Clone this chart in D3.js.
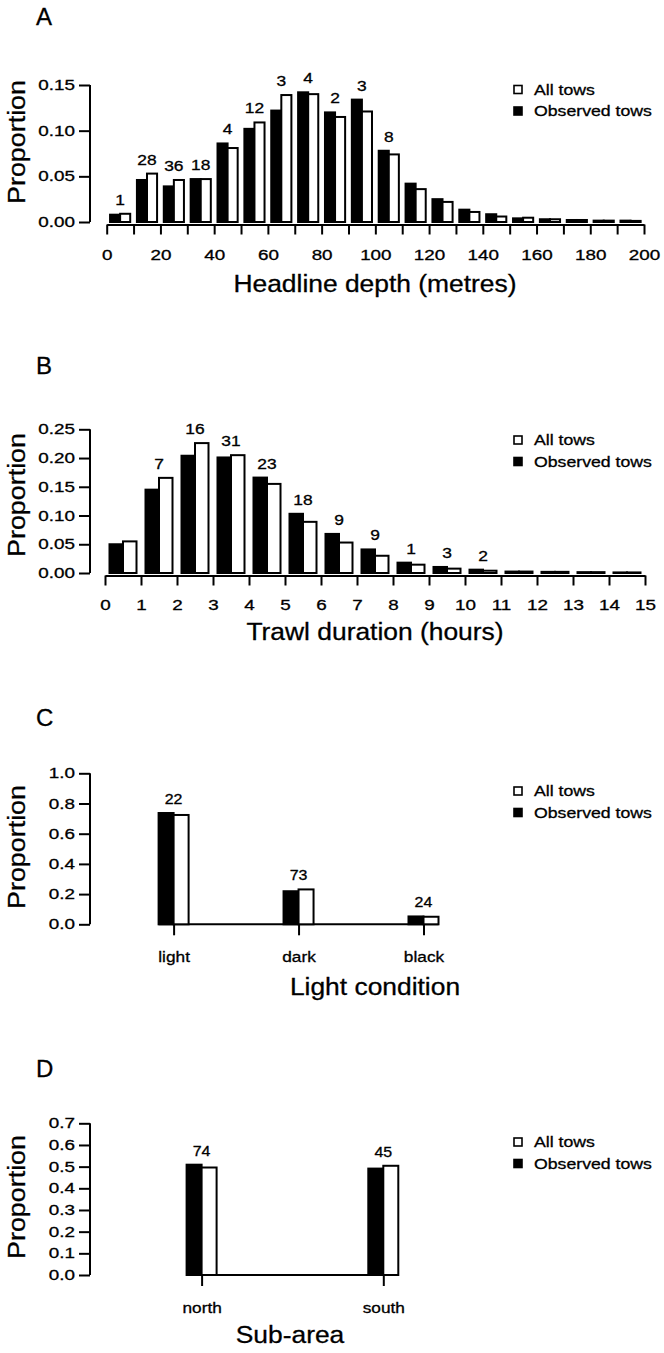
<!DOCTYPE html>
<html>
<head>
<meta charset="utf-8">
<script src="https://cdn.jsdelivr.net/npm/d3@7"></script>
<style>
    body { margin: 0; background: #fff; }
    svg text { font-family: "Liberation Sans", Arial, sans-serif; fill: #000; stroke: #000; stroke-width: 0.3px; }
</style>
</head>
<body>
<div id="chart"></div>
<script>

// ---- data ----

// A: headline depth, 10 m bins
const depthBins = [0, 10, 20, 30, 40, 50, 60, 70, 80, 90, 100, 110, 120, 130, 140, 150, 160, 170, 180, 190];
const depthObserved = [0.008, 0.046, 0.039, 0.047, 0.086, 0.102, 0.122, 0.142, 0.120, 0.134, 0.078, 0.042, 0.025, 0.0135, 0.0085, 0.004, 0.003, 0.0022, 0.0015, 0.0015];
const depthAll = [0.009, 0.053, 0.046, 0.047, 0.081, 0.109, 0.139, 0.140, 0.115, 0.121, 0.074, 0.036, 0.022, 0.011, 0.006, 0.0047, 0.003, 0.0022, 0.0015, 0.0012];
const depthCounts = ["1", "28", "36", "18", "4", "12", "3", "4", "2", "3", "8", "", "", "", "", "", "", "", "", ""];
const depthTicks = [0, 20, 40, 60, 80, 100, 120, 140, 160, 180, 200];
const depthYTicks = [0, 0.05, 0.10, 0.15];

// B: trawl duration, 1 h bins
const durationBins = [0, 1, 2, 3, 4, 5, 6, 7, 8, 9, 10, 11, 12, 13, 14];
const durationObserved = [0.050, 0.145, 0.204, 0.201, 0.166, 0.103, 0.068, 0.041, 0.018, 0.0105, 0.0058, 0.0025, 0.002, 0.0015, 0.001];
const durationAll = [0.055, 0.1655, 0.226, 0.205, 0.155, 0.089, 0.053, 0.030, 0.0145, 0.0076, 0.004, 0.0025, 0.002, 0.0015, 0.001];
const durationCounts = ["", "7", "16", "31", "23", "18", "9", "9", "1", "3", "2", "", "", "", ""];
const durationTicks = [0, 1, 2, 3, 4, 5, 6, 7, 8, 9, 10, 11, 12, 13, 14, 15];
const durationYTicks = [0, 0.05, 0.10, 0.15, 0.20, 0.25];

// C: light condition
const lightCats = ["light", "dark", "black"];
const lightObserved = [0.737, 0.219, 0.052];
const lightAll = [0.724, 0.231, 0.050];
const lightCounts = ["22", "73", "24"];
const lightYTicks = [0, 0.2, 0.4, 0.6, 0.8, 1.0];

// D: sub-area
const areaCats = ["north", "south"];
const areaObserved = [0.509, 0.491];
const areaAll = [0.496, 0.504];
const areaCounts = ["74", "45"];
const areaYTicks = [0, 0.1, 0.2, 0.3, 0.4, 0.5, 0.6, 0.7];

const legendLabels = ["All tows", "Observed tows"];


let svg = d3.select("#chart").append("svg")
    .attr("width", 664)
    .attr("height", 1353);

svg.append("rect").attr("width", 664).attr("height", 1353).attr("fill", "#fff");


/* shared bits */

// the figure's lettering is a bit wider than Liberation Sans, so squeeze it out sideways
function widen(sel, sx) {
    sel.each(function() {
        let t = d3.select(this);
        let x = +(t.attr("x") || 0);
        t.attr("x", x / sx).attr("transform", `scale(${sx},1)`);
    });
}

function drawYAxis(g, y, ticks, fmt, x0, titleY) {
    let axis = d3.axisLeft(y)
        .tickValues(ticks)
        .tickFormat(d3.format(fmt))
        .tickSize(11)
        .tickPadding(4)
        .tickSizeOuter(0);
    let a = g.append("g")
        .attr("transform", `translate(${x0},0)`)
        .call(axis);
    a.select(".domain").attr("stroke-width", 2).attr("d", `M0,${y(ticks[0])}V${y(ticks[ticks.length - 1])}`);
    a.selectAll(".tick line").attr("stroke-width", 2);
    a.selectAll(".tick text").attr("font-size", 14.5).attr("fill", "#000").call(widen, 1.3);

    g.append("text")
        .attr("transform", `translate(17,${titleY}) rotate(-90) scale(1.12,1)`)
        .attr("text-anchor", "middle")
        .attr("dy", "0.35em")
        .attr("font-size", 24)
        .text("Proportion");
}

function drawLegend(g, x0, y0) {
    legendLabels.forEach((lab, i) => {
        let yy = y0 + i * 21.5;
        g.append("rect")
            .attr("x", x0)
            .attr("y", yy - 4)
            .attr("width", 8)
            .attr("height", 8)
            .attr("fill", i === 0 ? "#fff" : "#000")
            .attr("stroke", "#000")
            .attr("stroke-width", 1.6);
        g.append("text")
            .attr("x", x0 + 20)
            .attr("y", yy)
            .attr("dy", "0.35em")
            .attr("font-size", 15)
            .text(lab)
            .call(widen, 1.18);
    });
}

function drawHeading(g, letter, baseY) {
    g.append("text")
        .attr("x", 36)
        .attr("y", baseY)
        .attr("font-size", 24)
        .text(letter);
}


/* histogram style panels (A, B) */

class HistPanel {
    constructor(cfg) {
        this.cfg = cfg;
        this.initVis();
    }

    initVis() {
        let vis = this;
        let c = vis.cfg;
        vis.g = svg.append("g");

        vis.x = d3.scaleLinear().domain(c.xDomain).range(c.xRange);
        vis.y = d3.scaleLinear().domain([0, c.yTicks[c.yTicks.length - 1]]).range(c.yRange);

        drawHeading(vis.g, c.letter, c.headY);
        drawYAxis(vis.g, vis.y, c.yTicks, c.yFmt, 90, c.ylabY);
        drawLegend(vis.g, 514, c.legendY);

        // x axis: a tick every bin, label on the listed ticks
        let y0 = vis.y(0) + 2.5;
        let binTicks = c.bins.concat([c.xDomain[1]]);
        let axis = d3.axisBottom(vis.x)
            .tickValues(binTicks)
            .tickFormat(d => c.xTicks.includes(d) ? d : "")
            .tickSize(10)
            .tickPadding(c.xPad)
            .tickSizeOuter(0);
        let a = vis.g.append("g")
            .attr("transform", `translate(0,${y0})`)
            .call(axis);
        a.select(".domain").attr("stroke-width", 2);
        a.selectAll(".tick line").attr("stroke-width", 2);
        a.selectAll(".tick text").attr("font-size", 14.5).attr("fill", "#000").call(widen, 1.3);

        vis.g.append("text")
            .attr("x", 375)
            .attr("y", c.xlabY)
            .attr("text-anchor", "middle")
            .attr("dy", "0.35em")
            .attr("font-size", 24)
            .text(c.xlab)
            .call(widen, 1.1);

        vis.updateVis();
    }

    updateVis() {
        let vis = this;
        let c = vis.cfg;
        let step = c.bins[1] - c.bins[0];
        let rows = c.bins.map((b, i) => ({lo: b, obs: c.observed[i], all: c.all[i], n: c.counts[i]}));

        let bw = d => vis.x(d.lo + step) - vis.x(d.lo);

        vis.g.selectAll(".obs")
            .data(rows)
            .enter()
            .append("rect")
            .attr("class", "obs")
            .attr("x", d => vis.x(d.lo) + bw(d) * 0.125)
            .attr("y", d => vis.y(d.obs))
            .attr("width", d => bw(d) * 0.375)
            .attr("height", d => vis.y(0) - vis.y(d.obs))
            .attr("fill", "#000")
            .attr("stroke", "#000")
            .attr("stroke-width", 2);

        vis.g.selectAll(".all")
            .data(rows)
            .enter()
            .append("rect")
            .attr("class", "all")
            .attr("x", d => vis.x(d.lo) + bw(d) * 0.5)
            .attr("y", d => vis.y(d.all))
            .attr("width", d => bw(d) * 0.375)
            .attr("height", d => vis.y(0) - vis.y(d.all))
            .attr("fill", "#fff")
            .attr("stroke", "#000")
            .attr("stroke-width", 2);

        vis.g.selectAll(".count")
            .data(rows.filter(d => d.n !== ""))
            .enter()
            .append("text")
            .attr("class", "count")
            .attr("x", d => vis.x(d.lo + step / 2))
            .attr("y", d => vis.y(Math.max(d.obs, d.all)) - 9)
            .attr("text-anchor", "middle")
            .attr("font-size", 14.5)
            .text(d => d.n)
            .call(widen, 1.2);
    }
}


/* categorical panels (C, D) */

class CatPanel {
    constructor(cfg) {
        this.cfg = cfg;
        this.initVis();
    }

    initVis() {
        let vis = this;
        let c = vis.cfg;
        vis.g = svg.append("g");

        vis.x = d3.scalePoint().domain(c.cats).range(c.xRange);
        vis.y = d3.scaleLinear().domain([0, c.yTicks[c.yTicks.length - 1]]).range(c.yRange);
        vis.barW = 15;

        drawHeading(vis.g, c.letter, c.headY);
        drawYAxis(vis.g, vis.y, c.yTicks, ".1f", 90, c.ylabY);
        drawLegend(vis.g, 514, c.legendY);

        let y0 = vis.y(0);
        // baseline joining the bars
        vis.g.append("line")
            .attr("x1", vis.x(c.cats[0]) - vis.barW)
            .attr("x2", vis.x(c.cats[c.cats.length - 1]) + vis.barW)
            .attr("y1", y0).attr("y2", y0)
            .attr("stroke", "#000")
            .attr("stroke-width", 2);

        let axis = d3.axisBottom(vis.x)
            .tickSize(11)
            .tickPadding(16)
            .tickSizeOuter(0);
        let a = vis.g.append("g")
            .attr("transform", `translate(0,${y0})`)
            .call(axis);
        a.select(".domain").remove();
        a.selectAll(".tick line").attr("stroke-width", 2);
        a.selectAll(".tick text").attr("font-size", 15).attr("fill", "#000").call(widen, 1.15);

        vis.g.append("text")
            .attr("x", c.xlabX)
            .attr("y", c.xlabY)
            .attr("text-anchor", "middle")
            .attr("dy", "0.35em")
            .attr("font-size", 24)
            .text(c.xlab)
            .call(widen, 1.1);

        vis.updateVis();
    }

    updateVis() {
        let vis = this;
        let c = vis.cfg;
        let rows = c.cats.map((k, i) => ({k: k, obs: c.observed[i], all: c.all[i], n: c.counts[i]}));

        vis.g.selectAll(".obs")
            .data(rows)
            .enter()
            .append("rect")
            .attr("class", "obs")
            .attr("x", d => vis.x(d.k) - vis.barW)
            .attr("y", d => vis.y(d.obs))
            .attr("width", vis.barW)
            .attr("height", d => vis.y(0) - vis.y(d.obs))
            .attr("fill", "#000")
            .attr("stroke", "#000")
            .attr("stroke-width", 2);

        vis.g.selectAll(".all")
            .data(rows)
            .enter()
            .append("rect")
            .attr("class", "all")
            .attr("x", d => vis.x(d.k))
            .attr("y", d => vis.y(d.all))
            .attr("width", vis.barW)
            .attr("height", d => vis.y(0) - vis.y(d.all))
            .attr("fill", "#fff")
            .attr("stroke", "#000")
            .attr("stroke-width", 2);

        vis.g.selectAll(".count")
            .data(rows)
            .enter()
            .append("text")
            .attr("class", "count")
            .attr("x", d => vis.x(d.k))
            .attr("y", d => vis.y(Math.max(d.obs, d.all)) - 9)
            .attr("text-anchor", "middle")
            .attr("font-size", 14.5)
            .text(d => d.n)
            .call(widen, 1.1);
    }
}


new HistPanel({
    letter: "A", headY: 25,
    bins: depthBins, observed: depthObserved, all: depthAll, counts: depthCounts,
    xDomain: [0, 200], xRange: [106.7, 644], xTicks: depthTicks, xPad: 15,
    yTicks: depthYTicks, yFmt: ".2f", yRange: [222, 85],
    ylabY: 142, legendY: 89.5,
    xlab: "Headline depth (metres)", xlabY: 284
});

new HistPanel({
    letter: "B", headY: 374,
    bins: durationBins, observed: durationObserved, all: durationAll, counts: durationCounts,
    xDomain: [0, 15], xRange: [105, 645], xTicks: durationTicks, xPad: 14,
    yTicks: durationYTicks, yFmt: ".2f", yRange: [573, 429.3],
    ylabY: 495, legendY: 440,
    xlab: "Trawl duration (hours)", xlabY: 632
});

new CatPanel({
    letter: "C", headY: 726,
    cats: lightCats, observed: lightObserved, all: lightAll, counts: lightCounts,
    xRange: [173.6, 423.5],
    yTicks: lightYTicks, yRange: [924.3, 773.3],
    ylabY: 847, legendY: 791,
    xlab: "Light condition", xlabX: 375, xlabY: 987
});

new CatPanel({
    letter: "D", headY: 1077,
    cats: areaCats, observed: areaObserved, all: areaAll, counts: areaCounts,
    xRange: [201.6, 383.3],
    yTicks: areaYTicks, yRange: [1275, 1123.3],
    ylabY: 1197, legendY: 1142,
    xlab: "Sub-area", xlabX: 290, xlabY: 1335
});

</script>
</body>
</html>
